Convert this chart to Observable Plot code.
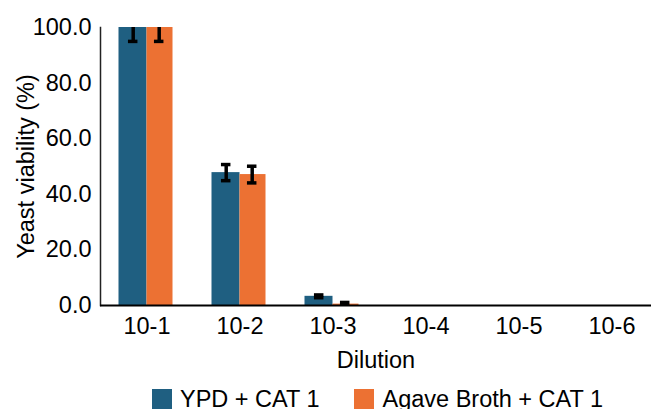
<!DOCTYPE html>
<html>
<head>
<meta charset="utf-8">
<script src="https://cdn.jsdelivr.net/npm/d3@7"></script>
<script src="https://cdn.jsdelivr.net/npm/@observablehq/plot@0.6"></script>
<style>
  html, body { margin: 0; padding: 0; background: #fff; }
  body { width: 651px; height: 409px; overflow: hidden; font-family: "Liberation Sans", Arial, sans-serif; }
  #chart svg { display: block; }
  #legend { display: flex; align-items: center; justify-content: center; width: 547px; padding-left: 104px; padding-top: 9px; font-size: 23.5px; line-height: 20px; color: #000; }
  .item { display: flex; align-items: center; }
  .sw { width: 20px; height: 20px; margin-right: 8px; }
  .gap { width: 35px; }
</style>
</head>
<body>
<div id="chart"></div>
<div id="legend"></div>
<script>
const categories = ["10-1", "10-2", "10-3", "10-4", "10-5", "10-6"];
const seriesNames = ["YPD + CAT 1", "Agave Broth + CAT 1"];
const seriesColors = ["#1f5f81", "#ec7133"];
const ypdValues = [100, 47.8, 3.3, 0, 0, 0];
const ypdErrors = [5.0, 2.9, 0.5, 0, 0, 0];
const agaveValues = [100, 47.1, 0.5, 0, 0, 0];
const agaveErrors = [5.0, 3.0, 0.6, 0, 0, 0];
const yTicks = [0, 20, 40, 60, 80, 100];

const ypd = categories.map((c, i) => ({cat: c, v: ypdValues[i], e: ypdErrors[i]}));
const agave = categories.map((c, i) => ({cat: c, v: agaveValues[i], e: agaveErrors[i]}));
const ypdErr = ypd.filter(d => d.e > 0);
const agaveErr = agave.filter(d => d.e > 0);

const capInset = (93 - 9.5) / 2;
const errStyle = {stroke: "#000", strokeWidth: 3.5, clip: true};

const chart = Plot.plot({
  width: 651,
  height: 380,
  marginLeft: 100,
  marginRight: 0,
  marginTop: 27,
  marginBottom: 75,
  style: {fontFamily: "'Liberation Sans', Arial, sans-serif", fontSize: "23.5px", color: "#000", background: "#fff"},
  x: {type: "band", domain: categories, range: [100, 658], padding: 0},
  y: {domain: [0, 100]},
  marks: [
    Plot.barY(ypd, {x: "cat", y: "v", fill: seriesColors[0], insetLeft: 18.5, insetRight: 46.5}),
    Plot.barY(agave, {x: "cat", y: "v", fill: seriesColors[1], insetLeft: 46.5, insetRight: 20.5}),
    Plot.ruleX(ypdErr, {x: "cat", y1: d => d.v - d.e, y2: d => d.v + d.e, dx: -13.8, ...errStyle}),
    Plot.ruleX(agaveErr, {x: "cat", y1: d => d.v - d.e, y2: d => d.v + d.e, dx: 12.2, ...errStyle}),
    Plot.tickY(ypdErr, {x: "cat", y: d => d.v - d.e, dx: -13.8, insetLeft: capInset, insetRight: capInset, ...errStyle}),
    Plot.tickY(ypdErr, {x: "cat", y: d => d.v + d.e, dx: -13.8, insetLeft: capInset, insetRight: capInset, ...errStyle}),
    Plot.tickY(agaveErr, {x: "cat", y: d => d.v - d.e, dx: 12.2, insetLeft: capInset, insetRight: capInset, ...errStyle}),
    Plot.tickY(agaveErr, {x: "cat", y: d => d.v + d.e, dx: 12.2, insetLeft: capInset, insetRight: capInset, ...errStyle}),
    Plot.axisY({ticks: yTicks, tickFormat: d => d.toFixed(1), tickSize: 0, tickPadding: 9, label: "Yeast viability (%)", labelAnchor: "center", labelOffset: 83, labelArrow: false}),
    Plot.axisX({tickSize: 0, tickPadding: 12, label: "Dilution", labelAnchor: "center", labelOffset: 62, labelArrow: false}),
    Plot.frame({anchor: "left", stroke: "#222", strokeWidth: 1.5}),
    Plot.ruleY([0], {stroke: "#000", strokeWidth: 2})
  ]
});
document.getElementById("chart").appendChild(chart);

const legend = document.getElementById("legend");
seriesNames.forEach((name, i) => {
  if (i > 0) { const g = document.createElement("div"); g.className = "gap"; legend.appendChild(g); }
  const item = document.createElement("div");
  item.className = "item";
  const sw = document.createElement("div");
  sw.className = "sw";
  sw.style.background = seriesColors[i];
  const tx = document.createElement("span");
  tx.textContent = name;
  item.appendChild(sw);
  item.appendChild(tx);
  legend.appendChild(item);
});
</script>
</body>
</html>
